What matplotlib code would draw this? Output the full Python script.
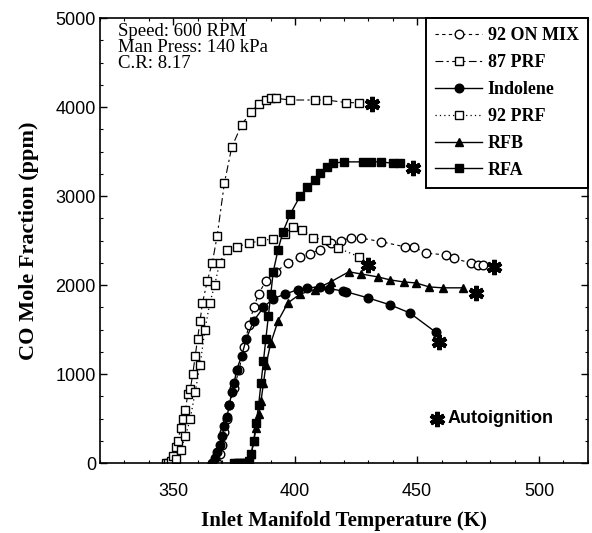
import matplotlib.pyplot as plt

# inlet manifold temperature (K) / CO mole fraction (ppm)
on92_T = [368, 369, 370, 371, 372, 373, 375, 377, 379, 381, 383, 385, 388, 392, 397, 402,
          406, 410, 414.5, 418.6, 422.7, 426.8, 435, 445, 448.6, 453.6, 461.8, 465, 472, 475, 477]
on92_co = [0, 100, 200, 350, 500, 650, 850, 1050, 1300, 1550, 1750, 1900, 2050, 2150, 2250, 2320,
           2350, 2400, 2475, 2500, 2530, 2530, 2490, 2430, 2430, 2360, 2340, 2300, 2250, 2230, 2230]

prf87_T = [347, 348, 349, 350, 351, 352, 353, 354, 355, 356, 357, 358, 359, 360, 361, 362, 364,
           366, 368, 371, 374, 378, 382, 385, 388, 390, 392, 398, 408, 413, 421, 426]
prf87_co = [0, 0, 30, 80, 180, 250, 400, 500, 600, 780, 830, 1000, 1200, 1400, 1600, 1800, 2050,
            2250, 2550, 3150, 3550, 3800, 3950, 4030, 4080, 4100, 4100, 4080, 4080, 4080, 4050,
            4050]

indo_T = [366, 367, 368, 369, 370, 371, 372, 373, 374, 375, 376, 378, 380, 383, 387, 391, 396,
          401, 405, 410, 414, 419.5, 421, 430, 439, 447, 457.7]
indo_co = [0, 60, 130, 200, 300, 420, 520, 650, 800, 900, 1050, 1200, 1400, 1600, 1750, 1850,
           1900, 1950, 1970, 1980, 1960, 1935, 1925, 1856, 1778, 1688, 1470]

prf92_T = [351, 353, 355, 357, 359, 361, 363, 365, 367, 369, 372, 376, 381, 386, 391, 396, 399,
           403, 407.5, 412.5, 417.4, 426]
prf92_co = [50, 150, 300, 500, 800, 1100, 1500, 1800, 2000, 2250, 2400, 2430, 2470, 2500, 2520,
            2580, 2650, 2620, 2530, 2510, 2420, 2320]

rfb_T = [381, 382, 383, 384, 385, 386, 387, 388, 390, 393, 397, 402, 408, 414.5, 422, 427,
         434, 439, 444.5, 449.5, 455, 460.5, 469]
rfb_co = [0, 100, 250, 400, 550, 700, 900, 1100, 1350, 1600, 1800, 1900, 1950, 2036, 2150,
          2126, 2092, 2059, 2036, 2025, 1980, 1970, 1970]

rfa_T = [375, 376, 377, 378, 379, 380, 381, 382, 383, 384, 385, 386, 387, 388, 389, 390, 391,
         393, 395, 398, 402, 405, 408, 410, 413, 415.6, 420, 428, 431, 435, 440, 443]
rfa_co = [0, 0, 0, 0, 0, 0, 30, 100, 250, 450, 650, 900, 1150, 1400, 1650, 1900, 2150,
          2400, 2600, 2800, 3000, 3100, 3180, 3260, 3330, 3370, 3385, 3385, 3385, 3385, 3370,
          3370]

# autoignition points (end of each run)
auto_T = [481.5, 431.5, 459, 430, 474, 448.5]
auto_co = [2200, 4030, 1360, 2230, 1910, 3320]

serif = "Liberation Serif"
sans = "Liberation Sans"

fig = plt.figure(figsize=(5.92, 5.33), dpi=100)
ax = fig.add_axes([0.169, 0.131, 0.824, 0.835])

ms = 6.2
ax.plot(on92_T, on92_co, color="black", linestyle=(0, (3, 3)), linewidth=0.8,
        marker="o", markerfacecolor="white", markersize=ms, label="92 ON MIX")
ax.plot(prf87_T, prf87_co, color="black", linestyle=(0, (7, 3, 2, 3)), linewidth=0.8,
        marker="s", markerfacecolor="white", markersize=ms, label="87 PRF")
ax.plot(indo_T, indo_co, color="black", linestyle="-", linewidth=1.0,
        marker="o", markerfacecolor="black", markersize=ms, label="Indolene")
ax.plot(prf92_T, prf92_co, color="black", linestyle=(0, (1, 2.5)), linewidth=0.9,
        marker="s", markerfacecolor="white", markersize=ms, label="92 PRF")
ax.plot(rfb_T, rfb_co, color="black", linestyle="-", linewidth=1.0,
        marker="^", markerfacecolor="black", markersize=ms, label="RFB")
ax.plot(rfa_T, rfa_co, color="black", linestyle="-", linewidth=1.0,
        marker="s", markerfacecolor="black", markersize=ms, label="RFA")

ax.plot(auto_T, auto_co, linestyle="none", marker=(6, 2, 0), markersize=11,
        markeredgewidth=3.2, color="black")

ax.set_xlim(320, 520)
ax.set_ylim(0, 5000)
ax.set_xticks([350, 400, 450, 500])
ax.set_yticks([0, 1000, 2000, 3000, 4000, 5000])
ax.set_xticks(range(320, 521, 10), minor=True)
ax.set_yticks(range(0, 5001, 250), minor=True)
ax.tick_params(which="both", direction="in", top=True, right=True)
ax.tick_params(which="major", length=5, width=1)
ax.tick_params(which="minor", length=2.5, width=0.8)
ax.tick_params(axis="x", which="major", pad=14)
ax.tick_params(axis="y", which="major", pad=3)
for lab in ax.get_xticklabels() + ax.get_yticklabels():
    lab.set_fontfamily(sans)
    lab.set_fontsize(13)
for sp in ax.spines.values():
    sp.set_linewidth(1.2)

ax.set_xlabel("Inlet Manifold Temperature (K)", fontfamily=serif, fontweight="bold",
              fontsize=15, labelpad=8)
ax.set_ylabel("CO Mole Fraction (ppm)", fontfamily=serif, fontweight="bold",
              fontsize=16, labelpad=12)

ax.text(0.037, 0.99, "Speed: 600 RPM\nMan Press: 140 kPa\nC.R: 8.17",
        transform=ax.transAxes, ha="left", va="top", fontfamily=serif, fontsize=13.5,
        linespacing=0.95)

ax.plot([0.69], [0.1], transform=ax.transAxes, marker=(6, 2, 0), markersize=11,
        markeredgewidth=3.2, color="black", clip_on=False)
ax.text(0.712, 0.1, "Autoignition", transform=ax.transAxes, ha="left", va="center",
        fontfamily=sans, fontweight="bold", fontsize=13)

leg = ax.legend(loc="upper right", borderaxespad=0, fancybox=False, framealpha=1,
                edgecolor="black", handlelength=2.6, handletextpad=0.3,
                labelspacing=0.55, borderpad=0.5,
                prop={"family": serif, "weight": "bold", "size": 13})
leg.get_frame().set_linewidth(1.4)
leg.set_zorder(5)

fig.savefig("out.png", dpi=100)
